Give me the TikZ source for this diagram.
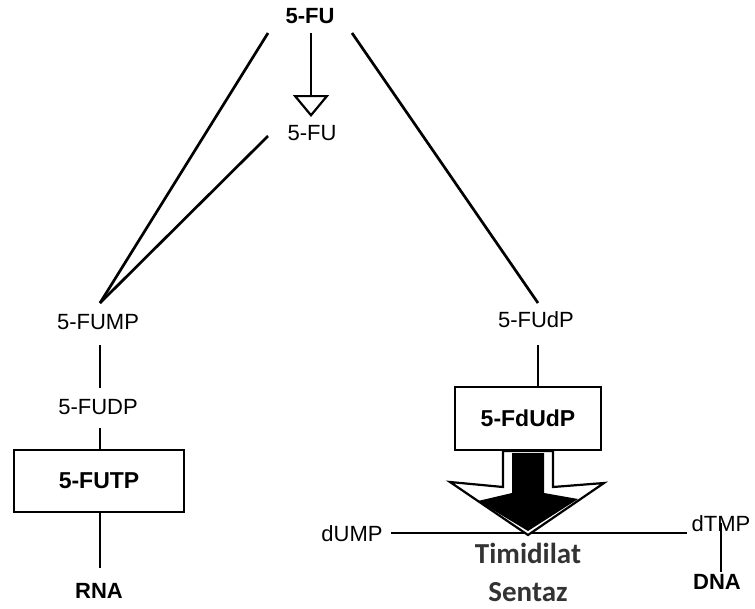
\documentclass[tikz,border=0pt]{standalone}
\usepackage{fontspec}
\setmainfont{Liberation Sans}
\newfontfamily\calfont{Carlito}
\usetikzlibrary{arrows.meta}
\definecolor{tsgray}{HTML}{333333}
\tikzset{
  lbl/.style={inner sep=0pt, font=\fontsize{22}{26}\selectfont},
  blbl/.style={inner sep=0pt, font=\fontsize{22}{26}\selectfont\bfseries},
  boxnode/.style={draw, line width=2.6pt, inner sep=0pt, font=\fontsize{23}{27}\selectfont\bfseries},
  conn/.style={line width=2.7pt},
  thinconn/.style={line width=1.6pt},
  tslbl/.style={inner sep=0pt, text=tsgray, font=\fontsize{29}{34}\selectfont\calfont\bfseries}
}
\begin{document}
\begin{tikzpicture}[x=1pt,y=-1pt]
\useasboundingbox (0,0) rectangle (755,608);
% labels
\node[blbl] (fu) at (310,16) {5-FU};
\node[lbl] (fu2) at (312,133) {5-FU};
\node[lbl] (fump) at (98,322) {5-FUMP};
\node[lbl] (fudp) at (98,407) {5-FUDP};
\node[boxnode, minimum width=170pt, minimum height=62pt] (futp) at (99,481) {5-FUTP};
\node[blbl] (rna) at (99,591) {RNA};
\node[lbl] (fudP) at (536,320) {5-FUdP};
\node[boxnode, minimum width=146pt, minimum height=63pt] (fdudp) at (528,418.5) {5-FdUdP};
\node[lbl] (dump) at (352,534) {dUMP};
\node[lbl] (dtmp) at (721,524) {dTMP};
\node[blbl] (dna) at (717,582) {DNA};
\node[tslbl] (ts1) at (528,553) {Timidilat};
\node[tslbl] (ts2) at (528,592) {Sentaz};
% coordinates
\coordinate (fuL) at (268,33);
\coordinate (fuR) at (352,33);
\coordinate (fuB) at (311,33);
\coordinate (fu2T) at (311,117);
\coordinate (fu2L) at (268,136);
\coordinate (mpT) at (100,303);
\coordinate (mpB) at (100,345);
\coordinate (dpA) at (100,388);
\coordinate (dpB) at (100,428);
\coordinate (rnaT) at (100,568);
\coordinate (dPT) at (538,303);
\coordinate (dPB) at (538,345);
\coordinate (hL) at (391,533);
\coordinate (hR) at (687,533);
\coordinate (dnaT) at (721,523);
\coordinate (dnaB) at (721,572);
% connectors
\draw[conn] (fuL) -- (mpT);
\draw[conn] (fu2L) -- (mpT);
\draw[conn] (fuR) -- (dPT);
\draw[conn, -{Triangle[open,length=22pt,width=36pt,line width=2.2pt]}] (fuB) -- (fu2T);
\draw[conn] (mpB) -- (dpA);
\draw[conn] (dpB) -- (dpB |- futp.north);
\draw[conn] (futp.south -| rnaT) -- (rnaT);
\draw[conn] (dPB) -- (dPB |- fdudp.north);
\draw[conn] (hL) -- (hR);
\draw[thinconn] (dnaT) -- (dnaB);
% big arrow
\draw[line width=2.2pt, fill=white, line join=miter]
  (503,451) -- (503,487) -- (450,482) -- (528,535) -- (604,483) -- (553,487) -- (553,451) -- cycle;
\fill[black]
  (512,453) -- (512,493) -- (478,501) -- (528,531) -- (578,499) -- (544,493) -- (544,453) -- cycle;
\end{tikzpicture}
\end{document}
